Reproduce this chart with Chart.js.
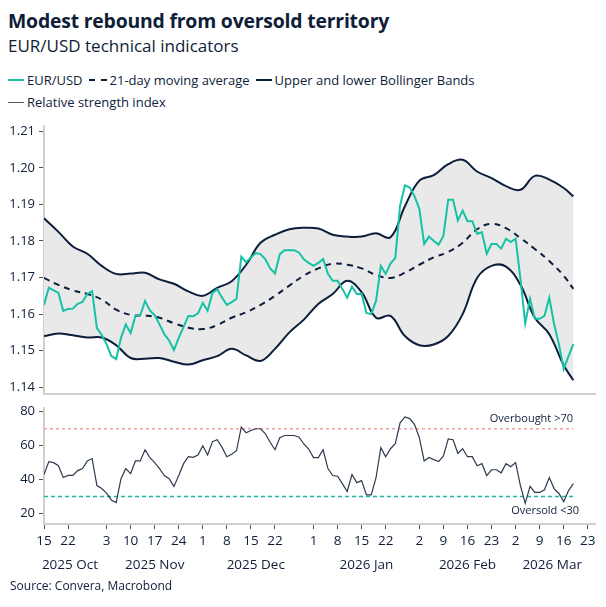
<!DOCTYPE html>
<html>
<head>
<meta charset="utf-8">
<script src="https://cdn.jsdelivr.net/npm/chart.js@4.4.1/dist/chart.umd.min.js"></script>
<style>
  body { margin: 0; width: 606px; height: 607px; background: #fff; font-family: "Open Sans", sans-serif; color: #0e1d38; position: relative; overflow: hidden; }
  .title { position: absolute; left: 8px; top: 7px; font-size: 19.4px; font-weight: 700; letter-spacing: -0.2px; }
  .subtitle { position: absolute; left: 8px; top: 34px; font-size: 17px; }
  .legend { position: absolute; left: 8px; font-size: 13px; display: flex; align-items: center; }
  .legend span.sw { display: inline-block; width: 16px; height: 0; margin-right: 3px; }
  .legend span.item { display: inline-flex; align-items: center; margin-right: 6px; }
  .source { position: absolute; left: 10px; top: 577px; font-size: 12px; }
  #top { position: absolute; left: 0; top: 114px; }
  #bottom { position: absolute; left: 0; top: 396px; }
</style>
</head>
<body>
<div class="title">Modest rebound from oversold territory</div>
<div class="subtitle">EUR/USD technical indicators</div>
<div class="legend" style="top:71px">
  <span class="item"><span class="sw" style="border-top:2.5px solid #16c2a6"></span>EUR/USD</span>
  <span class="item"><span class="sw" style="border-top:2.5px dashed #0c1e3b;width:18px"></span>21-day moving average</span>
  <span class="item"><span class="sw" style="border-top:2.5px solid #0c1e3b"></span>Upper and lower Bollinger Bands</span>
</div>
<div class="legend" style="top:93px">
  <span class="item"><span class="sw" style="border-top:1.5px solid #4a5568"></span>Relative strength index</span>
</div>
<canvas id="top" width="606" height="292"></canvas>
<canvas id="bottom" width="606" height="180"></canvas>
<div class="source">Source: Convera, Macrobond</div>
<script>
// business-day index 0 = 15 Oct 2025
const eurusd = [1.1625, 1.1672, 1.1665, 1.1658, 1.1609, 1.1614, 1.1615, 1.1628, 1.1633, 1.1655,
  1.1663, 1.1562, 1.1543, 1.1518, 1.1485, 1.1477, 1.1535, 1.1572, 1.1548, 1.1595,
  1.1597, 1.1636, 1.1610, 1.1597, 1.1572, 1.1545, 1.1528, 1.1502, 1.1535, 1.1565,
  1.1595, 1.1594, 1.1602, 1.1631, 1.1609, 1.1658, 1.1668, 1.1645, 1.1625, 1.1633,
  1.1642, 1.1757, 1.1742, 1.1755, 1.1767, 1.1764, 1.1750, 1.1725, 1.1711, 1.1764,
  1.1775, 1.1775, 1.1775, 1.1768, 1.1750, 1.1740, 1.1732, 1.1740, 1.1751, 1.1710,
  1.1691, 1.1691, 1.1669, 1.1645, 1.1675, 1.1655, 1.1656, 1.1603, 1.1600, 1.1636,
  1.1732, 1.1710, 1.1738, 1.1754, 1.1897, 1.1952, 1.1946, 1.1922, 1.1888, 1.1792,
  1.1812, 1.1800, 1.1790, 1.1814, 1.1913, 1.1913, 1.1856, 1.1883, 1.1854, 1.1854,
  1.1820, 1.1824, 1.1765, 1.1792, 1.1792, 1.1779, 1.1806, 1.1797, 1.1806, 1.1697,
  1.1575, 1.1642, 1.1587, 1.1587, 1.1595, 1.1645, 1.1573, 1.1518, 1.1450, 1.1485, 1.1518];

const rsi = [43, 50.6, 50, 48.2, 41.2, 42.5, 42.5, 45.3, 46.5, 51,
  52.4, 36.5, 34.7, 32, 28, 26.5, 40.5, 46.5, 43.5, 51,
  51, 57.6, 53, 50, 46.5, 42.4, 40.5, 36, 42.4, 49.4,
  53.5, 53.1, 54.5, 60, 54.5, 62.4, 63.5, 59, 53.5, 55,
  57, 71, 67.6, 69, 70, 70, 67, 62, 57.6, 64.7,
  66, 66, 66, 65, 61, 58, 53, 53, 57.6, 46.5,
  42.4, 42, 37.6, 33, 43, 38.2, 39.4, 31, 31, 41.2,
  58.8, 53.5, 58.2, 61.2, 73.5, 77, 76, 72.4, 64.7, 51,
  53, 51.8, 50.6, 54, 64, 63.5, 55.5, 58.2, 53.5, 53.5,
  48.2, 49.4, 42.4, 45.8, 45.8, 44, 49.4, 47.6, 50, 36.5,
  26, 36, 32.4, 32.4, 34, 41.2, 34.7, 31.8, 27, 33.5, 37.6];

const bandDays = [0, 3, 6, 9, 12, 15, 18, 21, 24, 27, 30, 33, 36, 39, 42, 45, 48, 51, 54,
  57, 60, 63, 66, 69, 72, 75, 78, 81, 84, 87, 90, 93, 96, 99, 102, 105, 108, 110];
const upperBand = [1.1862, 1.1825, 1.1785, 1.1765, 1.1732, 1.1710, 1.1711, 1.1713, 1.1695, 1.1683,
  1.1662, 1.1650, 1.1672, 1.1690, 1.1735, 1.1795, 1.1817, 1.1832, 1.1836,
  1.1834, 1.1817, 1.1812, 1.1812, 1.1821, 1.1810, 1.1895, 1.1965, 1.1980, 1.2010,
  1.2022, 1.1990, 1.1972, 1.1950, 1.1940, 1.1978, 1.1968, 1.1945, 1.1922];
const lowerBand = [1.1540, 1.1547, 1.1542, 1.1536, 1.1536, 1.1515, 1.1480, 1.1478, 1.1480, 1.1470,
  1.1462, 1.1474, 1.1485, 1.1505, 1.1487, 1.1472, 1.1505, 1.1550, 1.1585,
  1.1628, 1.1655, 1.1691, 1.1660, 1.1590, 1.1595, 1.1540, 1.1515, 1.1517, 1.1540,
  1.1600, 1.1699, 1.1732, 1.1730, 1.1680, 1.1590, 1.1545, 1.1460, 1.1419];
const movingAvg = [1.1699, 1.1680, 1.1665, 1.1655, 1.1640, 1.1612, 1.1598, 1.1596, 1.1590, 1.1575,
  1.1563, 1.1559, 1.1570, 1.1590, 1.1605, 1.1625, 1.1650, 1.1678, 1.1705,
  1.1725, 1.1738, 1.1735, 1.1725, 1.1707, 1.1699, 1.1713, 1.1735, 1.1755, 1.1770,
  1.1795, 1.1832, 1.1847, 1.1835, 1.1808, 1.1778, 1.1745, 1.1705, 1.1669];

const tickDays = [0, 5, 13, 18, 23, 28, 33, 38, 43, 48, 56, 61, 66, 71, 78, 83, 88, 93, 98, 103, 108, 113];
const tickLabels = ['15', '22', '3', '10', '17', '24', '1', '8', '15', '22', '1', '8', '15', '22', '2', '9', '16', '23', '2', '9', '16', '23'];
const monthDays = [5.4, 23, 44, 67, 88, 105.6];
const monthLabels = ['2025 Oct', '2025 Nov', '2025 Dec', '2026 Jan', '2026 Feb', '2026 Mar'];
const priceTicks = [1.14, 1.15, 1.16, 1.17, 1.18, 1.19, 1.20, 1.21];
const rsiTicks = [20, 40, 60, 80];
const refDays = [0, 110];

const TEAL = '#16c2a6';
const NAVY = '#0c1e3b';
const TEXT = '#0e1d38';
const FONT = '"Open Sans", sans-serif';

const days = eurusd.map((v, i) => i);
const pts = (xs, ys) => xs.map((x, i) => ({ x: x, y: ys[i] }));

const xBase = {
  type: 'linear', min: 0, max: 114.5,
  afterBuildTicks: (s) => { s.ticks = tickDays.map(v => ({ value: v })); },
};
const yFit = (s) => { s.width = 44; };

new Chart(document.getElementById('top'), {
  type: 'line',
  data: {
    datasets: [
      { data: pts(days, eurusd), borderColor: TEAL, borderWidth: 2, pointRadius: 0, tension: 0, order: 0 },
      { data: pts(bandDays, movingAvg), borderColor: NAVY, borderWidth: 2, borderDash: [6, 5], pointRadius: 0, tension: 0.4, order: 1 },
      { data: pts(bandDays, lowerBand), borderColor: NAVY, borderWidth: 2, pointRadius: 0, tension: 0.4, fill: false, order: 2 },
      { data: pts(bandDays, upperBand), borderColor: NAVY, borderWidth: 2, pointRadius: 0, tension: 0.4, fill: '-1', backgroundColor: '#e9e9e9', order: 3 },
    ]
  },
  options: {
    responsive: false, animation: false,
    layout: { padding: { top: 4, right: 11 } },
    plugins: { legend: { display: false }, tooltip: { enabled: false } },
    scales: {
      x: Object.assign({}, xBase, {
        grid: { display: false }, ticks: { display: false },
        border: { color: '#d0d0d0', width: 2 },
        afterFit: (s) => { s.height = 0; },
      }),
      y: {
        min: 1.1381, max: 1.2115,
        afterBuildTicks: (s) => { s.ticks = priceTicks.map(v => ({ value: v })); },
        afterFit: yFit,
        grid: { drawOnChartArea: false, tickLength: 5, color: '#555' },
        border: { color: '#d0d0d0', width: 2 },
        ticks: { color: TEXT, font: { family: FONT, size: 13 }, padding: 4, callback: (v) => v.toFixed(2) },
      }
    }
  }
});

const rsiText = {
  id: 'rsiText',
  afterDraw(chart) {
    const { ctx, chartArea, scales } = chart;
    ctx.save();
    ctx.fillStyle = TEXT;
    ctx.font = '11px ' + FONT;
    ctx.textAlign = 'right';
    ctx.fillText('Overbought >70', 573, scales.y.getPixelForValue(70) - 7);
    ctx.fillText('Oversold <30', 579, scales.y.getPixelForValue(30) + 17);
    ctx.font = '13.5px ' + FONT;
    ctx.textAlign = 'center';
    monthDays.forEach((d, i) => ctx.fillText(monthLabels[i], scales.x.getPixelForValue(d), chartArea.bottom + 45));
    ctx.restore();
  }
};

new Chart(document.getElementById('bottom'), {
  type: 'line',
  data: {
    datasets: [
      { data: pts(days, rsi), borderColor: '#2d3a4f', borderWidth: 1.2, pointRadius: 0, tension: 0 },
      { data: pts(refDays, [70, 70]), borderColor: '#f2a29c', borderWidth: 1.5, borderDash: [3, 3], pointRadius: 0 },
      { data: pts(refDays, [30, 30]), borderColor: '#19b9a0', borderWidth: 1.5, borderDash: [4, 3], pointRadius: 0 },
    ]
  },
  options: {
    responsive: false, animation: false,
    layout: { padding: { top: 2, right: 11, bottom: 24 } },
    plugins: { legend: { display: false }, tooltip: { enabled: false } },
    scales: {
      x: Object.assign({}, xBase, {
        afterFit: (s) => { s.height = 28; },
        grid: { drawOnChartArea: false, tickLength: 5, color: '#555' },
        border: { color: '#d0d0d0', width: 2 },
        ticks: { color: TEXT, font: { family: FONT, size: 13.5 }, padding: 4, maxRotation: 0, autoSkip: false,
          callback: (v) => { const i = tickDays.indexOf(v); return i >= 0 ? tickLabels[i] : ''; } },
      }),
      y: {
        min: 13.8, max: 82.35,
        afterBuildTicks: (s) => { s.ticks = rsiTicks.map(v => ({ value: v })); },
        afterFit: yFit,
        grid: { drawOnChartArea: false, tickLength: 5, color: '#555' },
        border: { color: '#d0d0d0', width: 2 },
        ticks: { color: TEXT, font: { family: FONT, size: 13 }, padding: 4 },
      }
    }
  },
  plugins: [rsiText]
});
</script>
</body>
</html>
